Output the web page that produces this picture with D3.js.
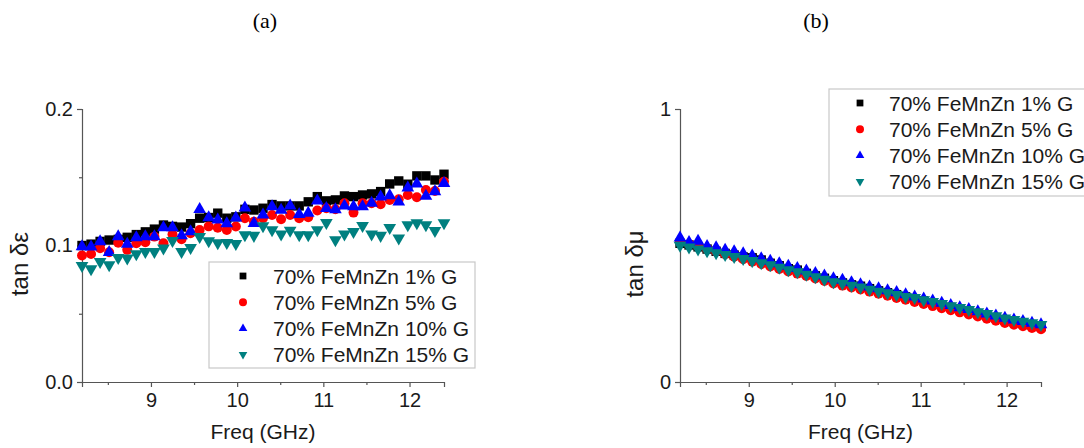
<!DOCTYPE html>
<html><head><meta charset="utf-8">
<script src="https://cdn.jsdelivr.net/npm/d3@7"></script>
<style>
body{margin:0;background:#fff;}
svg{display:block;font-family:"Liberation Sans",Arial,sans-serif;}
</style></head>
<body><svg id="c" width="1084" height="448"></svg>
<script>
const freq = [8.2,8.305,8.41,8.515,8.62,8.725,8.83,8.935,9.04,9.145,9.25,9.355,9.46,9.565,9.67,9.775,9.88,9.985,10.09,10.195,10.3,10.405,10.51,10.615,10.72,10.825,10.93,11.035,11.14,11.245,11.35,11.455,11.56,11.665,11.77,11.875,11.98,12.085,12.19,12.295,12.4];
const seriesNames = ["70% FeMnZn 1% G","70% FeMnZn 5% G","70% FeMnZn 10% G","70% FeMnZn 15% G"];
// panel (a) tan delta epsilon
const epsG1 = [0.100,0.101,0.103,0.104,0.1045,0.106,0.108,0.110,0.112,0.115,0.114,0.1135,0.116,0.120,0.1205,0.1237,0.120,0.121,0.1265,0.126,0.1273,0.130,0.129,0.129,0.129,0.132,0.1358,0.1327,0.1334,0.1363,0.1358,0.137,0.1378,0.1395,0.1451,0.1473,0.1449,0.151,0.151,0.148,0.1522];
const epsG5 = [0.0926,0.0938,0.098,0.095,0.102,0.0968,0.1017,0.1024,0.1065,0.1017,0.1083,0.1046,0.109,0.1114,0.114,0.113,0.1114,0.1139,0.120,0.1175,0.120,0.1224,0.1192,0.1224,0.120,0.1207,0.1256,0.1273,0.1266,0.131,0.1241,0.131,0.131,0.1302,0.1334,0.1339,0.137,0.1354,0.1407,0.140,0.1468];
const epsG10 = [0.0992,0.099,0.1029,0.095,0.1065,0.101,0.1058,0.1065,0.1065,0.1131,0.1131,0.1073,0.1102,0.1265,0.1205,0.1188,0.116,0.1203,0.1276,0.1163,0.1224,0.1285,0.126,0.129,0.1229,0.1237,0.1327,0.1273,0.1263,0.129,0.1285,0.1285,0.131,0.1357,0.1365,0.132,0.1423,0.1452,0.1362,0.1395,0.1456];
const epsG15 = [0.0853,0.0828,0.0882,0.0858,0.0911,0.0907,0.0938,0.0955,0.0955,0.098,0.1036,0.0955,0.0985,0.1065,0.1033,0.1019,0.102,0.1014,0.1078,0.1073,0.1144,0.1114,0.1083,0.111,0.1078,0.1078,0.1114,0.1168,0.1041,0.1083,0.1102,0.1146,0.1083,0.1073,0.1131,0.1053,0.1151,0.1165,0.1151,0.1108,0.1165];
// panel (b) tan delta mu
const muG1 = [0.508,0.502,0.495,0.487,0.479,0.471,0.465,0.458,0.455,0.447,0.435,0.426,0.415,0.410,0.398,0.389,0.380,0.371,0.363,0.356,0.351,0.342,0.334,0.327,0.320,0.312,0.305,0.297,0.289,0.281,0.273,0.266,0.258,0.250,0.243,0.235,0.227,0.221,0.214,0.209,0.203];
const muG5 = [0.512,0.505,0.497,0.487,0.478,0.468,0.459,0.450,0.441,0.432,0.423,0.414,0.405,0.397,0.388,0.379,0.370,0.361,0.353,0.346,0.339,0.331,0.323,0.316,0.308,0.301,0.293,0.286,0.278,0.270,0.263,0.255,0.247,0.240,0.232,0.224,0.216,0.210,0.204,0.198,0.193];
const muG10 = [0.528,0.512,0.516,0.497,0.492,0.483,0.478,0.470,0.462,0.452,0.443,0.434,0.425,0.416,0.407,0.398,0.389,0.379,0.373,0.364,0.357,0.349,0.342,0.335,0.328,0.320,0.312,0.305,0.297,0.289,0.281,0.273,0.266,0.258,0.250,0.242,0.234,0.228,0.222,0.216,0.210];
const muG15 = [0.500,0.494,0.487,0.480,0.473,0.466,0.459,0.452,0.444,0.436,0.429,0.420,0.411,0.403,0.394,0.385,0.376,0.367,0.361,0.354,0.347,0.339,0.332,0.326,0.320,0.313,0.309,0.301,0.294,0.287,0.279,0.272,0.265,0.257,0.250,0.242,0.234,0.228,0.222,0.216,0.210];
const xMajor = [9,10,11,12];
const xMinor = [8.5,9.5,10.5,11.5];
const yMajorA = [0.0,0.1,0.2], yMinorA = [0.05,0.15];
const yMajorB = [0,1], yMinorB = [0.5];

const colors = ["#000000","#ff0000","#0000ff","#008080"];
const shapes = [
  {t:d3.symbolSquare, s:88, ls:46, rot:0},
  {t:d3.symbolCircle, s:78, ls:50, rot:0},
  {t:d3.symbolTriangle, s:70, ls:32, rot:0},
  {t:d3.symbolTriangle, s:70, ls:32, rot:180}
];
const svg = d3.select("#c");
const axisCol = "#555", textCol = "#1a1a1a";

function panel(opt){
  const x = d3.scaleLinear().domain([8.2,12.4]).range(opt.xr);
  const y = d3.scaleLinear().domain(opt.yd).range([382,109]);
  const g = svg.append("g");
  g.append("g").attr("transform","translate(0,382)")
    .call(d3.axisBottom(x).tickValues(xMajor).tickSize(5).tickPadding(6).tickFormat(d3.format("d")));
  g.append("g").attr("transform","translate(0,382)")
    .call(d3.axisBottom(x).tickValues(xMinor).tickSize(3).tickFormat(""))
    .call(a=>a.select(".domain").remove());
  g.append("g").attr("transform",`translate(${opt.xr[0]},0)`)
    .call(d3.axisLeft(y).tickValues(opt.yMajor).tickSize(5).tickPadding(4).tickFormat(opt.fmt));
  g.append("g").attr("transform",`translate(${opt.xr[0]},0)`)
    .call(d3.axisLeft(y).tickValues(opt.yMinor).tickSize(3).tickFormat(""))
    .call(a=>a.select(".domain").remove());
  g.selectAll(".domain").attr("stroke",axisCol).attr("stroke-width",1.2);
  g.selectAll(".tick line").attr("stroke",axisCol).attr("stroke-width",1.2);
  g.selectAll(".tick text").attr("fill",textCol).style("font-size","20px").style("font-family","'Liberation Sans',Arial,sans-serif");
  opt.data.forEach((vals,k)=>{
    const sym = d3.symbol().type(shapes[k].t).size(shapes[k].s);
    g.append("g").selectAll("path").data(vals).join("path")
      .attr("d",sym)
      .attr("fill",colors[k])
      .attr("transform",(v,i)=>`translate(${x(freq[i])},${y(v)}) rotate(${shapes[k].rot})`);
  });
  g.append("text").attr("x",(opt.xr[0]+opt.xr[1])/2).attr("y",439)
    .attr("text-anchor","middle").attr("fill",textCol).style("font-size","21px").text("Freq (GHz)");
  g.append("text").attr("transform",`translate(${opt.ylx},264) rotate(-90)`)
    .attr("text-anchor","middle").attr("fill",textCol).style("font-size","24px").text(opt.ylab);
  g.append("text").attr("x",opt.tx).attr("y",28).attr("text-anchor","middle")
    .attr("fill","#000").style("font-family","'Liberation Serif','Times New Roman',serif").style("font-size","22px").text(opt.title);
  const L = opt.leg;
  g.append("rect").attr("x",L.x).attr("y",L.y).attr("width",L.w).attr("height",L.h)
    .attr("fill","#fff").attr("stroke","#c8c8c8").attr("stroke-width",1.2);
  seriesNames.forEach((n,k)=>{
    const yy = L.y + 14 + k*26.2;
    g.append("path").attr("d",d3.symbol().type(shapes[k].t).size(shapes[k].ls)())
      .attr("fill",colors[k]).attr("transform",`translate(${L.sx},${yy}) rotate(${shapes[k].rot})`);
    g.append("text").attr("x",L.tx).attr("y",yy).attr("dy","0.36em")
      .attr("fill",textCol).style("font-size","21px").text(n);
  });
}

panel({xr:[82,444], yd:[0,0.2], yMajor:yMajorA, yMinor:yMinorA, fmt:d3.format(".1f"),
  data:[epsG1,epsG5,epsG10,epsG15], ylab:"tan δε", ylx:28, title:"(a)", tx:265,
  leg:{x:209,y:262,w:266,h:106,sx:243,tx:273}});
panel({xr:[680,1041], yd:[0,1], yMajor:yMajorB, yMinor:yMinorB, fmt:d3.format("d"),
  data:[muG1,muG5,muG10,muG15], ylab:"tan δμ", ylx:643, title:"(b)", tx:816,
  leg:{x:829,y:89,w:270,h:107,sx:860,tx:889}});
</script>
</body></html>
